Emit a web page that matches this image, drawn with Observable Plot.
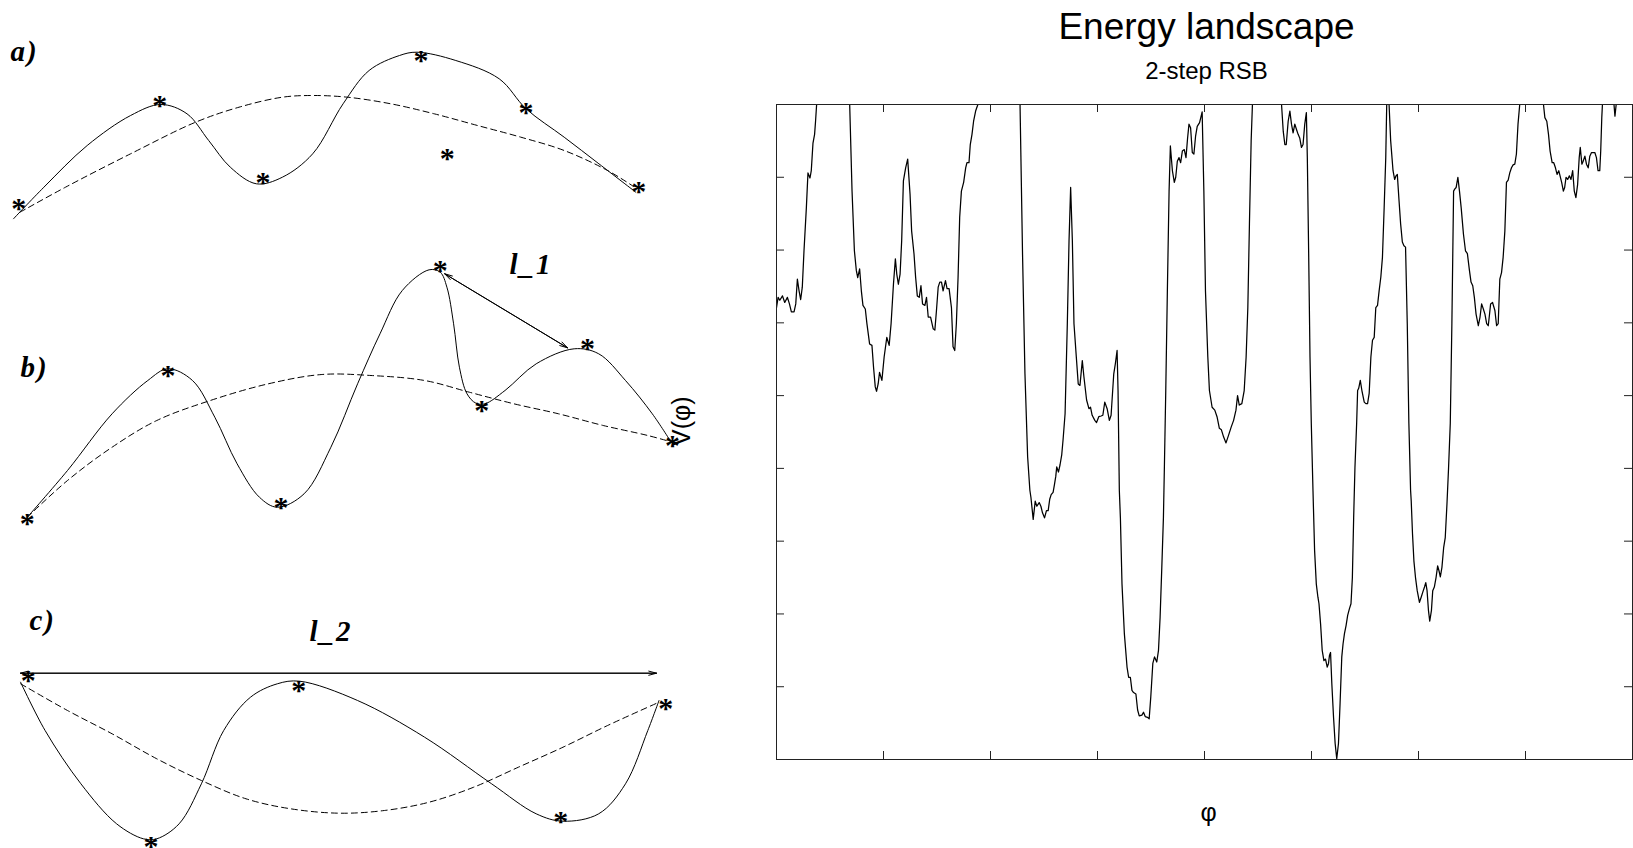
<!DOCTYPE html>
<html><head><meta charset="utf-8">
<script src="https://cdn.jsdelivr.net/npm/d3@7"></script>
<script src="https://cdn.jsdelivr.net/npm/@observablehq/plot@0.6"></script>
<style>
html,body{margin:0;padding:0;background:#fff;}
#wrap{position:relative;width:1633px;height:848px;overflow:hidden;background:#fff;}
#left,#right{position:absolute;top:0;}
#left{left:0;} #right{left:600px;}
</style></head><body>
<div id="wrap"><div id="right"></div><div id="left"></div></div>
<script>
// ---------- Right chart: energy landscape (2-step RSB) ----------
const title = "Energy landscape";
const subtitle = "2-step RSB";
const xLabel = "φ";
const yLabel = "V(φ)";
const xTicks = [0,1,2,3,4,5,6,7,8];
const yTicks = [0,1,2,3,4,5,6,7,8,9];
const phi = [0,0.015,0.031,0.056,0.077,0.102,0.121,0.139,0.164,0.180,0.195,0.211,0.226,0.241,0.257,0.279,0.294,0.313,0.325,0.341,0.356,0.365,0.375,0.53,0.684,0.706,0.728,0.746,0.759,0.777,0.793,0.808,0.830,0.845,0.870,0.892,0.907,0.923,0.935,0.950,0.963,0.985,1.006,1.031,1.053,1.071,1.093,1.111,1.124,1.139,1.155,1.170,1.186,1.207,1.226,1.248,1.263,1.285,1.300,1.316,1.334,1.350,1.365,1.387,1.402,1.418,1.440,1.464,1.480,1.495,1.511,1.526,1.542,1.557,1.579,1.594,1.613,1.635,1.650,1.666,1.681,1.697,1.712,1.728,1.749,1.768,1.780,1.799,1.811,1.827,1.842,1.861,1.882,2.08,2.276,2.300,2.322,2.347,2.368,2.378,2.399,2.418,2.433,2.455,2.471,2.486,2.505,2.523,2.539,2.554,2.567,2.585,2.598,2.610,2.619,2.635,2.650,2.666,2.678,2.697,2.718,2.734,2.749,2.765,2.780,2.802,2.820,2.836,2.858,2.873,2.898,2.920,2.935,2.950,2.975,2.991,3.012,3.034,3.050,3.068,3.090,3.111,3.127,3.152,3.167,3.183,3.192,3.204,3.214,3.229,3.251,3.276,3.291,3.307,3.322,3.337,3.359,3.375,3.390,3.415,3.430,3.446,3.467,3.483,3.498,3.517,3.533,3.554,3.570,3.585,3.601,3.616,3.625,3.638,3.653,3.669,3.681,3.700,3.718,3.731,3.746,3.762,3.777,3.793,3.811,3.827,3.842,3.855,3.870,3.886,3.901,3.917,3.932,3.954,3.972,3.978,3.994,4.009,4.031,4.046,4.071,4.096,4.117,4.139,4.158,4.179,4.201,4.226,4.250,4.272,4.294,4.309,4.325,4.349,4.371,4.389,4.405,4.420,4.436,4.448,4.58,4.720,4.736,4.751,4.764,4.782,4.798,4.813,4.828,4.844,4.859,4.875,4.890,4.906,4.921,4.937,4.952,4.961,4.974,4.986,4.998,5.014,5.029,5.045,5.060,5.070,5.085,5.100,5.116,5.131,5.147,5.159,5.168,5.178,5.190,5.206,5.221,5.236,5.252,5.267,5.283,5.295,5.308,5.323,5.338,5.354,5.369,5.382,5.394,5.406,5.422,5.431,5.441,5.456,5.471,5.493,5.508,5.524,5.539,5.555,5.570,5.586,5.601,5.617,5.632,5.648,5.663,5.679,5.694,5.703,5.714,5.725,5.740,5.762,5.777,5.790,5.802,5.818,5.833,5.849,5.864,5.879,5.895,5.910,5.926,5.932,5.944,5.957,5.972,5.988,6.009,6.025,6.040,6.056,6.068,6.080,6.093,6.105,6.121,6.133,6.148,6.164,6.179,6.192,6.204,6.219,6.235,6.250,6.266,6.281,6.297,6.312,6.328,6.340,6.352,6.368,6.383,6.399,6.420,6.439,6.457,6.476,6.491,6.507,6.522,6.538,6.559,6.575,6.590,6.606,6.621,6.637,6.652,6.661,6.674,6.692,6.714,6.730,6.745,6.760,6.776,6.791,6.807,6.822,6.838,6.853,6.869,6.884,6.900,6.915,6.930,6.946,7.06,7.168,7.181,7.199,7.215,7.230,7.249,7.264,7.280,7.295,7.311,7.323,7.338,7.354,7.366,7.379,7.394,7.410,7.425,7.441,7.456,7.471,7.487,7.502,7.512,7.527,7.539,7.555,7.570,7.586,7.601,7.617,7.632,7.648,7.663,7.678,7.694,7.703,7.713,7.719,7.77,7.827,7.836,7.846,7.92,8.0];
const V = [6.21,6.35,6.31,6.37,6.28,6.35,6.26,6.15,6.15,6.26,6.60,6.44,6.32,6.49,6.99,7.58,8.06,7.99,8.09,8.47,8.59,8.77,9.0,10.5,9.0,7.81,6.99,6.72,6.62,6.74,6.44,6.24,6.19,5.99,5.71,5.69,5.39,5.12,5.06,5.16,5.32,5.21,5.53,5.80,5.69,5.99,6.53,6.88,6.67,6.53,6.67,7.13,7.95,8.13,8.25,7.77,7.26,6.95,6.63,6.37,6.35,6.51,6.26,6.24,6.35,6.08,6.08,5.92,5.90,6.17,6.49,6.56,6.56,6.44,6.58,6.47,6.47,6.21,5.67,5.62,5.99,6.63,7.45,7.81,7.93,8.13,8.20,8.20,8.45,8.59,8.77,8.91,9.0,10.5,9.0,6.90,5.30,4.16,3.70,3.60,3.30,3.55,3.48,3.53,3.48,3.39,3.32,3.42,3.42,3.58,3.64,3.67,3.78,3.89,4.02,3.95,4.05,4.19,4.39,4.75,5.99,7.13,7.86,7.13,5.99,5.53,5.16,5.14,5.48,5.26,4.94,4.82,4.84,4.73,4.66,4.63,4.71,4.72,4.73,4.91,4.82,4.66,4.73,5.30,5.44,5.62,5.07,3.70,3.32,2.41,1.73,1.27,1.13,1.13,0.95,0.92,0.90,0.68,0.60,0.61,0.65,0.59,0.58,0.56,0.86,1.32,1.41,1.34,1.50,1.95,2.64,3.32,4.01,5.07,6.44,7.81,8.43,8.09,7.93,8.00,8.22,8.27,8.20,8.36,8.38,8.27,8.54,8.73,8.68,8.34,8.32,8.57,8.70,8.75,8.86,8.90,7.81,6.44,5.53,5.07,4.84,4.80,4.71,4.55,4.53,4.43,4.35,4.46,4.57,4.66,4.80,5.00,4.87,4.89,5.07,5.53,6.21,7.36,8.50,9.0,10.5,9.0,8.63,8.45,8.45,8.77,8.91,8.73,8.61,8.73,8.66,8.59,8.54,8.41,8.45,8.73,8.89,8.27,6.90,5.53,4.62,3.69,2.87,2.41,2.23,2.14,1.86,1.50,1.36,1.38,1.27,1.32,1.43,1.47,1.04,0.58,0.22,0.01,0.22,0.77,1.41,1.59,1.73,1.84,1.98,2.07,2.14,2.50,3.32,4.01,4.62,5.07,5.10,5.21,5.07,4.91,4.89,4.89,5.03,5.53,5.76,5.80,6.21,6.24,6.44,6.63,6.90,7.58,8.27,9.0,9.3,9.0,8.50,8.09,7.97,8.02,8.04,7.68,7.36,7.11,7.06,7.04,5.99,4.62,3.70,3.55,3.10,2.73,2.50,2.32,2.16,2.23,2.30,2.37,2.43,2.32,2.05,1.90,2.05,2.32,2.37,2.50,2.66,2.59,2.51,2.64,2.91,3.05,3.51,4.01,4.62,5.99,7.81,7.84,7.86,8.00,7.81,7.58,7.22,6.99,6.95,6.72,6.56,6.51,6.35,6.12,5.96,6.08,6.26,6.19,6.12,5.99,5.96,6.08,6.26,6.28,6.17,5.96,5.99,6.60,6.69,6.90,7.26,7.93,7.96,8.06,8.13,8.17,8.18,8.32,8.73,9.0,10.5,9.0,8.82,8.77,8.59,8.36,8.20,8.20,8.13,8.04,8.09,8.02,7.93,7.81,7.86,8.00,7.97,8.02,7.97,8.09,7.81,7.72,7.90,8.27,8.41,8.18,8.22,8.29,8.18,8.13,8.29,8.34,8.34,8.34,8.27,8.09,8.09,8.36,8.82,9.0,9.6,9.0,8.84,8.98,10.0,10.5];
const landscape = phi.map((p, i) => ({phi: p, V: V[i]}));

// ---------- Left sketches (schematic units) ----------
// panel a
const aSolidX = [1.30,4.34,8.67,13.01,16.04,18.65,20.82,22.98,25.59,28.19,31.22,34.26,36.86,39.9,41.63,45.53,49.87,52.56,56.37,59.84,63.53];
const aSolidY = [62.97,66.13,70.3,73.3,74.4,73.47,70.8,68.13,66.47,67.13,69.47,74.47,77.8,79.3,79.63,78.8,76.97,73.97,71.13,68.47,65.63];
const aDashX = [1.95,6.5,13.01,19.51,23.85,28.19,31.22,34.69,39.03,43.37,47.7,52.04,56.37,60.71,63.31];
const aDashY = [63.63,66.13,69.47,72.63,74.13,75.13,75.3,75.13,74.47,73.47,72.3,71.13,69.8,67.8,66.2];
const aStarX = [1.82,15.92,26.24,42.06,52.56,44.67,63.83];
const aStarY = [64.47,74.8,67.13,79.3,74.07,69.47,66.2];
// panel b
const bSolidX = [2.68,6.7,11.16,14.73,16.74,19.2,21.43,23.66,25.89,27.68,30.36,33.04,35.71,37.95,40.18,42.86,43.97,44.64,45.31,45.89,46.65,47.54,48.44,50.45,53.57,57.37,59.82,62.5,65.18,66.96];
const bSolidY = [33.13,37.8,43.47,46.8,47.97,46.8,43.13,38.47,35.13,34.13,35.47,40.13,46.47,51.47,55.8,57.87,57.63,56.13,52.47,48.13,45.47,44.53,44.47,45.8,48.47,49.97,49.47,46.8,43.47,40.8];
const bDashX = [2.68,6.7,11.16,15.63,20.98,26.79,32.14,37.05,42.41,46.88,51.34,55.8,60.27,64.73,67.19];
const bDashY = [33.13,36.8,40.13,42.8,44.8,46.47,47.4,47.3,46.8,45.63,44.47,43.47,42.3,41.3,40.63];
const bStarX = [2.68,16.74,28.04,43.97,48.13,58.7,67.19];
const bStarY = [32.97,47.8,34.63,58.3,44.3,50.47,40.8];
// panel c
const cSolidX = [2.01,4.46,8.04,11.61,14.29,15.63,17.86,20.09,22.32,25.0,27.68,29.91,35.71,42.41,49.11,53.57,56.25,59.82,62.5,64.73,65.85];
const cSolidY = [16.63,11.8,6.47,2.47,0.97,0.97,2.47,6.47,11.8,15.13,16.47,16.73,14.8,11.13,6.47,3.47,2.73,3.47,6.47,11.8,14.8];
const cDashX = [2.01,6.7,11.16,15.63,20.09,24.55,29.02,33.93,38.39,42.86,47.32,51.79,56.25,60.71,65.85];
const cDashY = [16.47,13.8,11.47,8.97,6.8,4.97,3.97,3.53,3.8,4.63,6.13,8.13,10.13,12.3,14.63];
const cStarX = [2.77,29.82,15.04,56.03,66.52];
const cStarY = [17.3,16.3,0.73,3.2,14.47];
// distance arrows l_1, l_2
const arrowNames = ["l_1","l_2"];
const arrowX1 = [44.42, 2.0];
const arrowY1 = [57.47, 17.53];
const arrowX2 = [56.7, 65.6];
const arrowY2 = [50.07, 17.53];
// panel and arrow labels
const labelText = ["a)","b)","c)","l_1","l_2"];
const labelX = [1.0, 2.0, 2.9, 50.9, 30.9];
const labelY = [78.8, 47.2, 21.9, 57.5, 20.8];
const starGlyph = "*";

const zipXY = (xs, ys) => xs.map((x, i) => ({x, y: ys[i]}));
const stars = [...zipXY(aStarX, aStarY), ...zipXY(bStarX, bStarY), ...zipXY(cStarX, cStarY)];
const arrows = arrowNames.map((n, i) => ({n, x1: arrowX1[i], y1: arrowY1[i], x2: arrowX2[i], y2: arrowY2[i]}));
const labels = labelText.map((t, i) => ({t, x: labelX[i], y: labelY[i]}));

const serif = "'Liberation Serif', 'Times New Roman', serif";
const sans = "'Liberation Sans', Arial, Helvetica, sans-serif";

const solid = {x: "x", y: "y", curve: "catmull-rom", stroke: "black", strokeWidth: 1};
const dashed = {...solid, strokeDasharray: "6,4"};

const left = Plot.plot({
  width: 700, height: 848, margin: 0,
  x: {domain: [0, 70], axis: null},
  y: {domain: [0, 84.8], axis: null},
  style: {background: "transparent", overflow: "visible"},
  marks: [
    Plot.line(zipXY(aSolidX, aSolidY), solid),
    Plot.line(zipXY(aDashX, aDashY), dashed),
    Plot.line(zipXY(bSolidX, bSolidY), solid),
    Plot.line(zipXY(bDashX, bDashY), dashed),
    Plot.line(zipXY(cSolidX, cSolidY), solid),
    Plot.line(zipXY(cDashX, cDashY), dashed),
    Plot.arrow(arrows, {x1: "x1", y1: "y1", x2: "x2", y2: "y2", stroke: "black", strokeWidth: 1, headLength: 12, headAngle: 30}),
    Plot.arrow(arrows, {x1: "x2", y1: "y2", x2: "x1", y2: "y1", stroke: "black", strokeWidth: 1, headLength: 12, headAngle: 30}),
    Plot.text(stars, {x: "x", y: "y", text: () => starGlyph, fontSize: 30, fontWeight: "bold", fontFamily: serif, fill: "black", dy: 5}),
    Plot.text(labels, {x: "x", y: "y", text: "t", textAnchor: "start", lineAnchor: "bottom", fontSize: 29, fontWeight: "bold", fontStyle: "italic", fontFamily: serif, fill: "black"})
  ]
});
left.querySelectorAll("g[aria-label] text").forEach(t => { if (t.textContent !== starGlyph) t.setAttribute("letter-spacing", "2"); });
document.getElementById("left").appendChild(left);

const W = 1033, H = 848, mL = 176, mR = 1, mT = 104, mB = 89;
const fw = W - mL - mR, fh = H - mT - mB, tk = 8;
const right = Plot.plot({
  width: W, height: H,
  marginLeft: mL, marginRight: mR, marginTop: mT, marginBottom: mB,
  x: {domain: [0, 8], axis: null},
  y: {domain: [0, 9], axis: null},
  style: {background: "transparent", overflow: "visible"},
  marks: [
    Plot.line(landscape, {x: "phi", y: "V", stroke: "black", strokeWidth: 1.25, clip: true}),
    Plot.frame({stroke: "#222", strokeWidth: 1}),
    Plot.ruleX(xTicks, {x: d => d, insetTop: fh - tk, stroke: "#222"}),
    Plot.ruleX(xTicks, {x: d => d, insetBottom: fh - tk, stroke: "#222"}),
    Plot.ruleY(yTicks, {y: d => d, insetRight: fw - tk, stroke: "#222"}),
    Plot.ruleY(yTicks, {y: d => d, insetLeft: fw - tk, stroke: "#222"}),
    Plot.text([title], {text: d => d, frameAnchor: "top", lineAnchor: "bottom", dy: -66, dx: 2, fontSize: 37, fontFamily: sans, fill: "black"}),
    Plot.text([subtitle], {text: d => d, frameAnchor: "top", lineAnchor: "bottom", dy: -26, dx: 2, fontSize: 24, fontFamily: sans, fill: "black"}),
    Plot.text([xLabel], {text: d => d, frameAnchor: "bottom", lineAnchor: "bottom", dy: 61, dx: 4, fontSize: 25, fontFamily: sans, fill: "black"}),
    Plot.text([yLabel], {text: d => d, frameAnchor: "left", rotate: -90, dx: -95, dy: 14, fontSize: 25, fontFamily: sans, fill: "black"})
  ]
});
document.getElementById("right").appendChild(right);
</script>
</body></html>
